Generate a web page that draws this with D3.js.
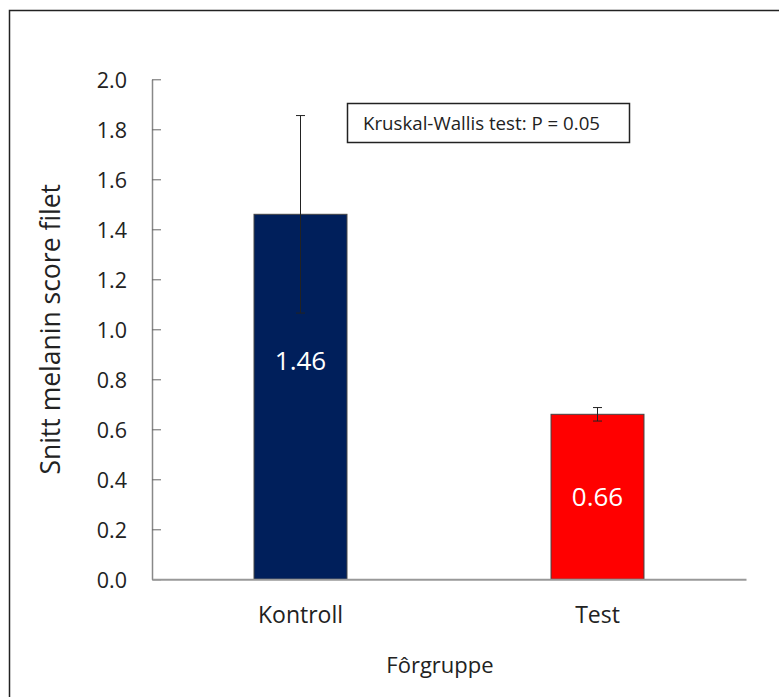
<!DOCTYPE html>
<html>
<head>
<meta charset="utf-8">
<script src="https://cdn.jsdelivr.net/npm/d3@7"></script>
<style>
  html, body { margin: 0; padding: 0; background: #fff; }
  svg { display: block; }
  text { font-family: "Open Sans", Lato, sans-serif; }
</style>
</head>
<body>
<svg id="chart" width="779" height="697"></svg>
<script>
const categories = ["Kontroll", "Test"];
const means = [1.46, 0.66];
const errors = [0.395, 0.027];
const valueLabels = ["1.46", "0.66"];
const barColors = ["#001f5b", "#ff0000"];
const yTicks = [0, 0.2, 0.4, 0.6, 0.8, 1.0, 1.2, 1.4, 1.6, 1.8, 2.0];
const yLabel = "Snitt melanin score filet";
const xLabel = "Fôrgruppe";
const annotation = "Kruskal-Wallis test: P = 0.05";

const FONT = "'Open Sans', Lato, sans-serif";
const svg = d3.select("#chart");

// outer frame
svg.append("rect")
  .attr("x", 9.5).attr("y", 10.5)
  .attr("width", 800).attr("height", 720)
  .attr("fill", "none").attr("stroke", "#222").attr("stroke-width", 1.5);

const plot = { left: 152, right: 746, top: 79.3, bottom: 579.3 };

const x = d3.scaleBand()
  .domain(categories)
  .range([plot.left, plot.right])
  .paddingInner(0.687)
  .paddingOuter(0.3435);

const y = d3.scaleLinear().domain([0, 2]).range([plot.bottom, plot.top]);

// bars
svg.selectAll("rect.bar")
  .data(categories)
  .join("rect")
  .attr("class", "bar")
  .attr("x", d => x(d))
  .attr("width", x.bandwidth())
  .attr("y", (d, i) => y(means[i]))
  .attr("height", (d, i) => y(0) - y(means[i]))
  .attr("fill", (d, i) => barColors[i])
  .attr("stroke", "#444")
  .attr("stroke-width", 1);

// error bars
const eb = svg.append("g").attr("stroke", "#222").attr("stroke-width", 1);
categories.forEach((c, i) => {
  const cx = x(c) + x.bandwidth() / 2;
  const yHi = y(means[i] + errors[i]);
  const yLo = y(means[i] - errors[i]);
  eb.append("line").attr("x1", cx).attr("x2", cx).attr("y1", yHi).attr("y2", yLo);
  eb.append("line").attr("x1", cx - 4.5).attr("x2", cx + 4.5).attr("y1", yHi).attr("y2", yHi);
  eb.append("line").attr("x1", cx - 4.5).attr("x2", cx + 4.5).attr("y1", yLo).attr("y2", yLo);
});

// value labels (placed inside bars)
const labelFrac = [0.6, 0.5];
svg.selectAll("text.val")
  .data(categories)
  .join("text")
  .attr("class", "val")
  .attr("x", d => x(d) + x.bandwidth() / 2)
  .attr("y", (d, i) => y(means[i] * labelFrac[i]))
  .attr("dy", "0.36em")
  .attr("text-anchor", "middle")
  .attr("fill", "#fff")
  .attr("font-size", 26)
  .text((d, i) => valueLabels[i]);

// y axis
const yAxis = d3.axisRight(y)
  .tickValues(yTicks)
  .tickFormat(d3.format(".1f"))
  .tickSize(9)
  .tickSizeOuter(0);
const gy = svg.append("g").attr("transform", `translate(${plot.left},0)`).call(yAxis);
gy.select(".domain").attr("stroke", "#888").attr("stroke-width", 1.5);
gy.selectAll(".tick line").attr("stroke", "#666").attr("stroke-width", 1);
gy.selectAll(".tick text")
  .attr("x", -25)
  .attr("text-anchor", "end")
  .attr("dy", "0.36em")
  .attr("font-size", 21.5)
  .attr("font-family", FONT)
  .attr("fill", "#222");

// x axis
const xAxis = d3.axisBottom(x).tickSize(0).tickSizeOuter(0);
const gx = svg.append("g").attr("transform", `translate(0,${plot.bottom})`).call(xAxis);
gx.select(".domain").attr("stroke", "#999").attr("stroke-width", 2);
gx.selectAll(".tick text")
  .attr("y", 44)
  .attr("dy", 0)
  .attr("font-size", 23)
  .attr("font-family", FONT)
  .attr("fill", "#222");

// axis titles
svg.append("text")
  .attr("transform", `translate(50,${(plot.top + plot.bottom) / 2}) rotate(-90)`)
  .attr("text-anchor", "middle")
  .attr("dy", "0.36em")
  .attr("font-size", 26.5)
  .attr("fill", "#222")
  .text(yLabel);

svg.append("text")
  .attr("x", 440)
  .attr("y", 673)
  .attr("text-anchor", "middle")
  .attr("font-size", 22)
  .attr("fill", "#222")
  .text(xLabel);

// annotation box
svg.append("rect")
  .attr("x", 347.5).attr("y", 103.5)
  .attr("width", 282).attr("height", 39)
  .attr("fill", "#fff").attr("stroke", "#222").attr("stroke-width", 1.5);
svg.append("text")
  .attr("x", 363).attr("y", 123)
  .attr("dy", "0.36em")
  .attr("font-size", 18.7)
  .attr("fill", "#222")
  .text(annotation);
</script>
</body>
</html>
